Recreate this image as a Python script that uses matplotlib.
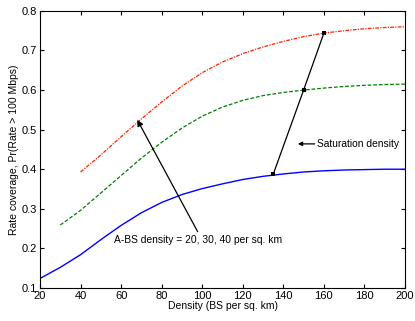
import numpy as np
import matplotlib
matplotlib.use('Agg')
import matplotlib.pyplot as plt

matplotlib.rcParams['font.family'] = ['Liberation Sans', 'DejaVu Sans']

# curves (A-BS density 20, 30, 40 per sq. km)
x20 = [20, 30, 40, 50, 60, 70, 80, 90, 100, 110, 120, 130, 140, 150, 160, 170, 180, 190, 200]
y20 = [0.124, 0.152, 0.184, 0.222, 0.258, 0.290, 0.316, 0.336, 0.351, 0.363, 0.374, 0.382, 0.388, 0.393, 0.396, 0.398, 0.399, 0.400, 0.400]
x30 = [30, 40, 50, 60, 70, 80, 90, 100, 110, 120, 130, 140, 150, 160, 170, 180, 190, 200]
y30 = [0.259, 0.296, 0.340, 0.384, 0.428, 0.468, 0.504, 0.534, 0.557, 0.574, 0.586, 0.594, 0.600, 0.605, 0.609, 0.612, 0.614, 0.615]
x40 = [40, 50, 60, 70, 80, 90, 100, 110, 120, 130, 140, 150, 160, 170, 180, 190, 200]
y40 = [0.393, 0.436, 0.482, 0.527, 0.570, 0.610, 0.644, 0.671, 0.692, 0.709, 0.723, 0.735, 0.744, 0.750, 0.755, 0.758, 0.760]

# saturation density points
sat_x = [135, 150, 160]
sat_y = [0.387, 0.600, 0.744]

xticks = [20, 40, 60, 80, 100, 120, 140, 160, 180, 200]
yticks = [0.1, 0.2, 0.3, 0.4, 0.5, 0.6, 0.7, 0.8]

fig = plt.figure(figsize=(4.15, 3.21), dpi=100)
ax = fig.add_axes([0.0964, 0.103, 0.8795, 0.863])

ax.plot(x20, y20, '-', color='#0000ff', lw=1.0)
ax.plot(x30, y30, '--', color='#008000', lw=0.9, dashes=(3, 1.5))
ax.plot(x40, y40, '-.', color='#ff2000', lw=0.9, dashes=(3, 1, 1, 1))
ax.plot(sat_x, sat_y, '-', color='k', lw=0.9, marker='s', ms=2.6, mew=0)

ax.annotate('', xy=(67.3, 0.531), xytext=(98.4, 0.236),
            arrowprops=dict(arrowstyle='-|>', color='k', lw=0.9, mutation_scale=9))
ax.text(56.6, 0.220, 'A-BS density = 20, 30, 40 per sq. km', fontsize=7.4, va='center', ha='left')

ax.annotate('', xy=(145.8, 0.464), xytext=(156.8, 0.464),
            arrowprops=dict(arrowstyle='-|>', color='k', lw=0.9, mutation_scale=6))
ax.text(156.8, 0.464, 'Saturation density', fontsize=7.4, va='center', ha='left')

ax.set_xlim(20, 200)
ax.set_ylim(0.1, 0.8)
ax.set_xticks(xticks)
ax.set_yticks(yticks)
ax.set_xticklabels([str(v) for v in xticks])
ax.set_yticklabels([('%.1f' % v) for v in yticks])
ax.tick_params(direction='in', top=True, right=True, labelsize=8, length=3, pad=2)
ax.set_xlabel('Density (BS per sq. km)', fontsize=7.5, labelpad=0)
ax.set_ylabel('Rate coverage, Pr(Rate > 100 Mbps)', fontsize=7.5, labelpad=2)

fig.savefig('out.png', dpi=100)
